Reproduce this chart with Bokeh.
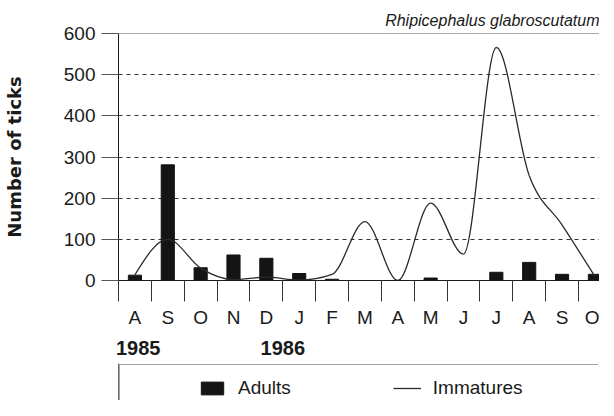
from bokeh.plotting import figure
from bokeh.layouts import column
from bokeh.models import (Range1d, FixedTicker, LinearAxis, Legend, LegendItem,
                          Span, ColumnDataSource)
from bokeh.embed import file_html
from bokeh.resources import INLINE

# ---- data ----
month_labels = ["A", "S", "O", "N", "D", "J", "F", "M", "A", "M", "J", "J", "A", "S", "O"]
adults = [13, 281, 31, 62, 54, 17, 3, 0, 0, 6, 0, 20, 44, 15, 15]
immatures = [14, 100, 30, 2, 8, 1, 15, 143, 0, 188, 64, 566, 255, 135, 10]
year_labels = ["1985", "1986"]
y_ticks = [0, 100, 200, 300, 400, 500, 600]

FONT = "Liberation Sans"
INK = "#1a1a1a"
BAR = "#141414"
LINE = "#2a2a2a"

n = len(month_labels)
centers = [i + 0.5 for i in range(n)]
bounds = list(range(n + 1))

p = figure(frame_width=481, frame_height=247, output_backend="svg", toolbar_location=None,
           x_range=Range1d(0, 14.64), y_range=Range1d(0, 600),
           min_border_left=117, min_border_right=0, min_border_top=33,
           min_border_bottom=80, title="Rhipicephalus glabroscutatum")
p.outline_line_color = None
p.background_fill_color = "white"
p.border_fill_color = "white"

p.title.align = "right"
p.title.text_font = FONT
p.title.text_font_style = "italic"
p.title.text_font_size = "16px"
p.title.text_color = INK

bars = p.vbar(x=centers, top=adults, width=0.4, bottom=0,
              fill_color=BAR, line_color=BAR)

# smooth curve: monotone cubic through the monthly values, drawn as bezier segments
def slopes(xs, ys):
    m = [0.0] * len(xs)
    for i in range(1, len(xs) - 1):
        h0 = xs[i] - xs[i - 1]
        h1 = xs[i + 1] - xs[i]
        s0 = (ys[i] - ys[i - 1]) / h0
        s1 = (ys[i + 1] - ys[i]) / h1
        pp = (s0 * h1 + s1 * h0) / (h0 + h1)
        sg = (1 if s0 > 0 else -1 if s0 < 0 else 0) + (1 if s1 > 0 else -1 if s1 < 0 else 0)
        m[i] = sg * min(abs(s0), abs(s1), 0.5 * abs(pp))
    h = xs[1] - xs[0]
    m[0] = (3 * (ys[1] - ys[0]) / h - m[1]) / 2
    h = xs[-1] - xs[-2]
    m[-1] = (3 * (ys[-1] - ys[-2]) / h - m[-2]) / 2
    return m

ms = slopes(centers, immatures)
seg = dict(x0=[], y0=[], x1=[], y1=[], cx0=[], cy0=[], cx1=[], cy1=[])
for i in range(n - 1):
    dx = centers[i + 1] - centers[i]
    seg["x0"].append(centers[i]); seg["y0"].append(immatures[i])
    seg["x1"].append(centers[i + 1]); seg["y1"].append(immatures[i + 1])
    seg["cx0"].append(centers[i] + dx / 3); seg["cy0"].append(immatures[i] + ms[i] * dx / 3)
    seg["cx1"].append(centers[i + 1] - dx / 3); seg["cy1"].append(immatures[i + 1] - ms[i + 1] * dx / 3)
curve = p.bezier(x0="x0", y0="y0", x1="x1", y1="y1", cx0="cx0", cy0="cy0",
                 cx1="cx1", cy1="cy1", source=ColumnDataSource(seg),
                 line_color=LINE, line_width=1.3)

p.xgrid.visible = False
p.ygrid.ticker = FixedTicker(ticks=y_ticks[1:-1])
p.ygrid.grid_line_color = "#333333"
p.ygrid.grid_line_dash = "4 4"
p.ygrid.grid_line_width = 1
p.add_layout(Span(location=y_ticks[-1], dimension="width", line_color="#555555", line_width=1))

ya = p.yaxis[0]
ya.ticker = FixedTicker(ticks=y_ticks)
ya.major_tick_out = 17
ya.major_tick_in = 0
ya.minor_tick_out = 0
ya.minor_tick_in = 0
ya.major_label_standoff = 6
ya.major_label_text_font = FONT
ya.major_label_text_font_size = "19px"
ya.major_label_text_color = INK
ya.axis_line_color = INK
ya.major_tick_line_color = "#555555"
ya.axis_label = "Number of ticks"
ya.axis_label_text_font = "DejaVu Sans"
ya.axis_label_text_font_style = "bold"
ya.axis_label_text_font_size = "18px"
ya.axis_label_text_color = INK
ya.axis_label_standoff = 36

xa = p.xaxis[0]
xa.ticker = FixedTicker(ticks=centers, minor_ticks=bounds)
xa.major_label_overrides = {c: m for c, m in zip(centers, month_labels)}
xa.major_tick_out = 0
xa.major_tick_in = 0
xa.minor_tick_out = 21
xa.minor_tick_in = 0
xa.minor_tick_line_color = "#333333"
xa.axis_line_color = INK
xa.major_label_standoff = 5
xa.major_label_text_font = FONT
xa.major_label_text_font_size = "19px"
xa.major_label_text_color = INK

year_pos = [0.6, 5.0]
ax2 = LinearAxis(ticker=FixedTicker(ticks=year_pos),
                 major_label_overrides={v: t for v, t in zip(year_pos, year_labels)})
ax2.axis_line_color = None
ax2.major_tick_line_color = None
ax2.minor_tick_line_color = None
ax2.major_tick_out = 0
ax2.major_label_standoff = 10
ax2.major_label_text_font = FONT
ax2.major_label_text_font_style = "bold"
ax2.major_label_text_font_size = "20px"
ax2.major_label_text_color = INK
p.add_layout(ax2, "below")

# ---- legend strip (separate small figure below the chart) ----
q = figure(width=598, height=40, output_backend="svg", toolbar_location=None,
           x_range=Range1d(0, 1), y_range=Range1d(0, 1),
           min_border_left=116, min_border_right=0, min_border_top=3,
           min_border_bottom=0, x_axis_type=None, y_axis_type=None)
q.outline_line_color = None
q.grid.visible = False
q.background_fill_color = "white"
q.border_fill_color = "white"

lb = q.vbar(x=[-10], top=[1], width=0.4, fill_color=BAR, line_color=BAR)
ll = q.line(x=[-10, -9], y=[0.5, 0.5], line_color=LINE, line_width=1.3)
dummies = [q.scatter(x=[-10], y=[0.5], size=1, fill_alpha=0, line_alpha=0) for _ in range(4)]
legend = Legend(items=[LegendItem(label=" ", renderers=[dummies[0]]),
                       LegendItem(label="Adults", renderers=[lb]),
                       LegendItem(label=" ", renderers=[dummies[1]]),
                       LegendItem(label="Immatures", renderers=[ll]),
                       LegendItem(label=" ", renderers=[dummies[2]]),
                       LegendItem(label=" ", renderers=[dummies[3]])],
                orientation="horizontal", location="top_left", margin=1,
                padding=4, spacing=28, glyph_width=28, glyph_height=16,
                label_standoff=12, label_width=6, label_height=38,
                label_text_font=FONT, label_text_font_size="19px",
                label_text_color=INK, border_line_color="#444444",
                border_line_width=1, background_fill_alpha=0)
q.add_layout(legend)

layout = column(p, q)
open("out.html", "w").write(file_html(layout, INLINE))
